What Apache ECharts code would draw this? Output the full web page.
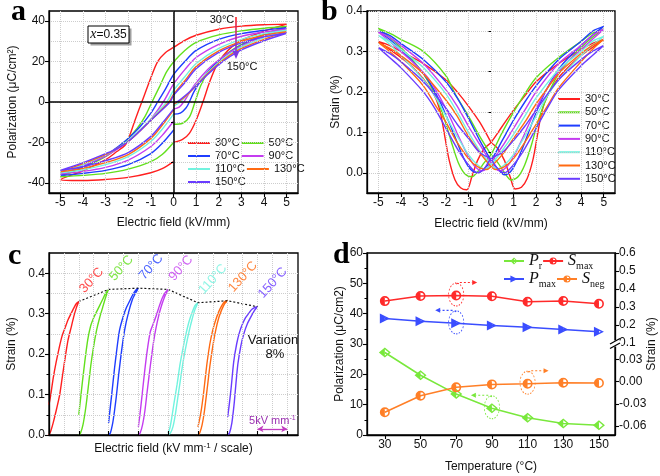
<!DOCTYPE html>
<html>
<head>
<meta charset="utf-8">
<script src="https://cdn.jsdelivr.net/npm/echarts@6.0.0/dist/echarts.min.js"></script>
<style>
html,body{margin:0;padding:0;background:#fff;}
#chart{width:660px;height:476px;}
</style>
</head>
<body>
<div id="chart"></div>
<script>
// ================= DATA =================
const temps = ['30°C','50°C','70°C','90°C','110°C','130°C','150°C'];

// (a) P–E loops: [E (kV/mm), P (µC/cm²)]
const pe30 = [[0,-20],[0.4,-18.5],[0.7,-15.5],[1,-9],[1.3,0],[1.6,10],[1.9,18],[2.2,23],[2.6,27.5],[3,30.5],[4,35],[5,38.5],[4,38.2],[3,37.5],[2,36],[1,33],[0.5,30.5],[0,27],[-0.35,24.5],[-0.7,20],[-1,12],[-1.2,6],[-1.4,0],[-1.7,-9],[-2,-18.5],[-2.15,-21.5],[-2.5,-24.5],[-3,-28.5],[-4,-34],[-5,-38.5],[-4.5,-38.8],[-4,-38.8],[-3,-38.3],[-2,-37.3],[-1,-35],[-0.5,-33],[0,-29.5]];
const pe50 = [[0,-11],[0.4,-10.5],[0.7,-7.5],[0.95,0],[1.2,8],[1.5,14.5],[1.8,18.5],[2.2,22.5],[2.6,25.8],[3,28.5],[4,33.5],[5,37.3],[4,36.5],[3,35.2],[2,33.2],[1,29.5],[0.5,25.5],[0,19.8],[-0.3,15],[-0.6,8],[-0.95,0],[-1.25,-7],[-1.6,-13],[-2,-18],[-2.5,-23],[-3,-27],[-4,-32.5],[-5,-37],[-4,-36.3],[-3,-35.3],[-2,-33.2],[-1,-29.5],[-0.5,-26],[0,-20]];
const pe70 = [[0,-6],[0.3,-5.5],[0.55,-3],[0.7,0],[0.9,5],[1.2,10.5],[1.6,16],[2,20.5],[2.5,24.8],[3,28],[4,33],[5,36.8],[4,35.5],[3,33.8],[2,31],[1,25.5],[0.5,20],[0,13.5],[-0.35,6.5],[-0.7,0],[-1,-5.5],[-1.5,-12.5],[-2,-18],[-2.5,-22.5],[-3,-26.5],[-4,-32],[-5,-36.3],[-4,-35.3],[-3,-33.8],[-2,-31],[-1,-25.5],[-0.5,-20.5],[0,-14]];
const pe90 = [[0,-3.5],[0.25,-2.5],[0.45,0],[0.7,4.5],[1,9.5],[1.5,16],[2,20.8],[2.5,24.7],[3,27.8],[4,32.5],[5,36.1],[4,34.6],[3,32.5],[2,28.5],[1,22],[0.5,16],[0,8.8],[-0.45,0],[-1,-8.5],[-1.5,-14.5],[-2,-19.5],[-2.5,-23.5],[-3,-26.8],[-4,-31.5],[-5,-35.6],[-4,-34.3],[-3,-32.3],[-2,-28.7],[-1,-22],[-0.5,-16.5],[0,-9.5]];
const pe110 = [[0,-2],[0.3,0],[0.6,3.5],[1,8.5],[1.5,14.5],[2,19.5],[2.5,23.8],[3,27.2],[4,31.8],[5,35.5],[4,33.8],[3,31],[2,26.5],[1,19],[0.5,12.5],[0,5.7],[-0.3,0],[-1,-8.5],[-1.5,-14],[-2,-19],[-2.5,-23],[-3,-26.2],[-4,-31],[-5,-35],[-4,-33.5],[-3,-31],[-2,-27],[-1,-19.5],[-0.5,-13.5],[0,-6]];
const pe130 = [[0,-1],[0.2,0],[0.6,3.5],[1,8],[1.5,14],[2,19],[2.5,23.2],[3,26.5],[4,31],[5,34.8],[4,33],[3,30],[2,25.3],[1,17.5],[0.5,10.5],[0,3.8],[-0.2,0],[-1,-9],[-1.5,-14.5],[-2,-19.5],[-2.5,-23],[-3,-26],[-4,-30.5],[-5,-34.5],[-4,-32.8],[-3,-30],[-2,-26],[-1,-18],[-0.5,-11.5],[0,-4]];
const pe150 = [[0,-0.5],[0.15,0],[0.6,4],[1,8],[1.5,13.5],[2,18.5],[2.5,22.5],[3,25.8],[4,30.3],[5,34],[4,32.2],[3,29.2],[2,24.5],[1,16.5],[0.5,9.5],[0,3.2],[-0.15,0],[-1,-9],[-1.5,-14.5],[-2,-19.5],[-2.5,-23],[-3,-25.5],[-4,-30],[-5,-33.8],[-4,-32],[-3,-29],[-2,-25],[-1,-17],[-0.5,-10.5],[0,-3.5]];

// (b) bipolar strain loops: [E (kV/mm), S (%)]
const st30 = [[0,0.075],[0.3,0.06],[0.6,0.03],[0.85,-0.01],[1.07,-0.04],[1.35,-0.036],[1.6,-0.015],[1.85,0.03],[2.05,0.09],[2.25,0.15],[2.5,0.19],[3,0.235],[3.5,0.265],[4,0.29],[4.5,0.31],[5,0.33],[4.5,0.32],[4,0.305],[3,0.27],[2,0.225],[1.5,0.19],[1,0.155],[0.5,0.115],[0,0.075],[-0.3,0.06],[-0.6,0.03],[-0.85,-0.01],[-1.07,-0.042],[-1.35,-0.037],[-1.6,-0.017],[-1.85,0.03],[-2.05,0.09],[-2.25,0.15],[-2.5,0.19],[-3,0.232],[-3.5,0.262],[-4,0.285],[-4.5,0.305],[-5,0.325],[-4.5,0.315],[-4,0.3],[-3,0.27],[-2,0.23],[-1.5,0.2],[-1,0.165],[-0.5,0.125],[0,0.075]];
const st50 = [[0,0.045],[0.3,0.025],[0.6,0.0],[0.9,-0.018],[1.2,-0.01],[1.5,0.02],[1.8,0.07],[2.1,0.13],[2.5,0.19],[3,0.245],[3.5,0.28],[4,0.31],[4.5,0.335],[5,0.355],[4.5,0.345],[4,0.325],[3,0.285],[2,0.235],[1.5,0.195],[1,0.15],[0.5,0.1],[0,0.045],[-0.3,0.025],[-0.6,0.002],[-0.85,-0.01],[-1.15,-0.003],[-1.45,0.025],[-1.75,0.075],[-2.05,0.13],[-2.45,0.19],[-3,0.245],[-3.5,0.28],[-4,0.31],[-4.5,0.335],[-5,0.357],[-4.5,0.345],[-4,0.33],[-3,0.3],[-2,0.24],[-1.6,0.196],[-1,0.14],[-0.5,0.09],[0,0.045]];
const st70 = [[0,0.03],[0.3,0.01],[0.6,-0.005],[0.9,0.005],[1.2,0.035],[1.5,0.075],[1.8,0.12],[2.2,0.175],[2.7,0.23],[3.2,0.27],[4,0.315],[4.5,0.34],[5,0.362],[4.5,0.35],[4,0.325],[3,0.28],[2,0.215],[1.5,0.175],[1,0.13],[0.5,0.08],[0,0.03],[-0.3,0.01],[-0.6,0.0],[-0.9,0.008],[-1.2,0.035],[-1.5,0.075],[-1.9,0.13],[-2.3,0.18],[-2.8,0.23],[-3.3,0.265],[-4,0.305],[-4.5,0.33],[-5,0.35],[-4.5,0.34],[-4,0.32],[-3,0.28],[-2,0.225],[-1.5,0.185],[-1,0.135],[-0.5,0.08],[0,0.03]];
const st90 = [[0,0.025],[0.2,0.01],[0.4,0.005],[0.7,0.015],[1,0.04],[1.4,0.085],[1.8,0.135],[2.3,0.19],[2.8,0.235],[3.4,0.275],[4,0.305],[4.5,0.33],[5,0.355],[4.5,0.34],[4,0.315],[3,0.27],[2,0.2],[1.5,0.155],[1,0.11],[0.5,0.065],[0,0.025],[-0.2,0.01],[-0.4,0.005],[-0.7,0.015],[-1,0.04],[-1.4,0.085],[-1.8,0.135],[-2.3,0.19],[-2.8,0.235],[-3.4,0.27],[-4,0.3],[-4.5,0.325],[-5,0.348],[-4.5,0.335],[-4,0.315],[-3,0.27],[-2,0.205],[-1.5,0.165],[-1,0.115],[-0.5,0.07],[0,0.025]];
const st110 = [[0,0.02],[0.25,0.01],[0.6,0.02],[1,0.045],[1.5,0.09],[2,0.14],[2.5,0.19],[3,0.23],[4,0.29],[4.5,0.315],[5,0.337],[4.5,0.325],[4,0.3],[3,0.255],[2,0.185],[1.5,0.14],[1,0.095],[0.5,0.055],[0,0.02],[-0.25,0.01],[-0.6,0.02],[-1,0.045],[-1.5,0.09],[-2,0.14],[-2.5,0.19],[-3,0.23],[-4,0.29],[-4.5,0.318],[-5,0.34],[-4.5,0.325],[-4,0.305],[-3,0.26],[-2,0.195],[-1.5,0.15],[-1,0.1],[-0.5,0.055],[0,0.02]];
const st130 = [[0,0.015],[0.2,0.008],[0.6,0.015],[1,0.035],[1.5,0.075],[2,0.12],[2.5,0.165],[3,0.21],[4,0.275],[4.5,0.305],[5,0.33],[4.5,0.315],[4,0.295],[3,0.245],[2,0.17],[1.5,0.125],[1,0.085],[0.5,0.045],[0,0.015],[-0.2,0.008],[-0.6,0.015],[-1,0.035],[-1.5,0.075],[-2,0.125],[-2.5,0.17],[-3,0.215],[-4,0.275],[-4.5,0.3],[-5,0.322],[-4.5,0.308],[-4,0.29],[-3,0.245],[-2,0.18],[-1.5,0.14],[-1,0.09],[-0.5,0.05],[0,0.015]];
const st150 = [[0,0.035],[0.3,0.01],[0.6,0.0],[1,0.02],[1.5,0.06],[2,0.11],[2.5,0.16],[3,0.205],[4,0.265],[4.5,0.29],[5,0.315],[4.5,0.3],[4,0.28],[3,0.23],[2,0.155],[1.5,0.115],[1,0.08],[0.5,0.05],[0,0.035],[-0.3,0.01],[-0.6,0.0],[-1,0.02],[-1.5,0.06],[-2,0.11],[-2.5,0.16],[-3,0.2],[-4,0.26],[-4.5,0.285],[-5,0.31],[-4.5,0.295],[-4,0.275],[-3,0.225],[-2,0.16],[-1.5,0.12],[-1,0.085],[-0.5,0.05],[0,0.035]];

// (c) unipolar strain: [E (kV/mm), S (%)]; each temperature shifted by one 5 kV/mm step
const uniStep = 5;
const uni30 = [[0,0],[0.3,0.01],[0.7,0.03],[1.2,0.06],[1.8,0.1],[2.2,0.14],[2.7,0.19],[3.2,0.235],[3.7,0.265],[4.2,0.295],[4.6,0.315],[5,0.33],[4.6,0.325],[4.2,0.315],[3.7,0.3],[3.2,0.285],[2.7,0.265],[2.2,0.245],[1.7,0.215],[1.2,0.18],[0.7,0.14],[0.3,0.1],[0,0.075]];
const uni50 = [[0,0],[0.3,0.005],[0.7,0.025],[1.1,0.06],[1.4,0.094],[2,0.17],[2.5,0.22],[3,0.26],[3.5,0.29],[4,0.315],[4.5,0.34],[5,0.36],[4.5,0.35],[4,0.335],[3.5,0.32],[3,0.305],[2.5,0.29],[2,0.27],[1.5,0.235],[1,0.18],[0.6,0.13],[0.3,0.09],[0,0.05]];
const uni70 = [[0,0],[0.3,0.005],[0.7,0.03],[1,0.06],[1.3,0.095],[1.7,0.15],[2.2,0.21],[2.7,0.26],[3.3,0.3],[4,0.335],[4.5,0.35],[5,0.363],[4.5,0.357],[4,0.345],[3.5,0.33],[3,0.315],[2.5,0.295],[1.85,0.26],[1.5,0.225],[1,0.165],[0.6,0.11],[0.3,0.07],[0,0.03]];
const uni90 = [[0,0],[0.3,0.005],[0.7,0.025],[1.1,0.06],[1.5,0.11],[2,0.17],[2.5,0.225],[2.9,0.26],[3.5,0.3],[4,0.325],[4.5,0.345],[5,0.36],[4.5,0.352],[4,0.338],[3.5,0.318],[3,0.295],[2.5,0.275],[2,0.255],[1.5,0.21],[1,0.15],[0.6,0.095],[0.3,0.055],[0,0.02]];
const uni110 = [[0,0],[0.4,0.005],[0.8,0.02],[1.2,0.05],[1.6,0.09],[2,0.13],[2.5,0.18],[3,0.22],[3.5,0.255],[4,0.285],[4.5,0.31],[5,0.327],[4.5,0.32],[4,0.302],[3.5,0.28],[3,0.25],[2.5,0.215],[2,0.175],[1.5,0.125],[1,0.08],[0.6,0.042],[0.3,0.018],[0,0.005]];
const uni130 = [[0,0],[0.3,0.005],[0.7,0.025],[1.1,0.06],[1.6,0.12],[2,0.17],[2.5,0.22],[3,0.26],[3.5,0.29],[4,0.31],[4.5,0.325],[5,0.332],[4.5,0.33],[4,0.32],[3.5,0.305],[3,0.285],[2.5,0.26],[2,0.225],[1.5,0.175],[1,0.11],[0.6,0.065],[0.3,0.04],[0,0.02]];
const uni150 = [[0,0],[0.3,0.005],[0.7,0.03],[1.1,0.08],[1.4,0.13],[1.7,0.175],[2.2,0.22],[2.7,0.25],[3.3,0.275],[4,0.295],[4.5,0.308],[5,0.317],[4.5,0.315],[4,0.31],[3.5,0.3],[3,0.29],[2.5,0.275],[2,0.255],[1.5,0.225],[1,0.18],[0.6,0.12],[0.3,0.08],[0,0.045]];
const scaleBarC = [35, 40];   // 5 kV/mm scale bar on the shifted axis
const scaleBarY = 0.015;

// (d) temperature dependence
const tempD = [30,50,70,90,110,130,150];
const prD   = [27.2,19.7,13.5,8.8,5.7,3.8,3.2];
const pmaxD = [38.4,37.5,36.8,36.1,35.5,34.8,34.0];
const smaxD = [0.333,0.361,0.364,0.360,0.329,0.334,0.318];
const snegD = [-0.0413,-0.0189,-0.0076,-0.0036,-0.0027,-0.0013,-0.0018];

// tick values
const ticksAX = [-5,-4,-3,-2,-1,0,1,2,3,4,5];
const ticksAY = [-40,-20,0,20,40];
const minorAY = [-30,-10,10,30];
const ticksBY = [0,0.1,0.2,0.3,0.4];
const minorBY = [0.05,0.15,0.25,0.35];
const ticksCX = [0,5,10,15,20,25,30,35,40];
const minorCX = [2.5,7.5,12.5,17.5,22.5,27.5,32.5,37.5];
const ticksCY = [0,0.1,0.2,0.3,0.4];
const minorCY = [0.05,0.15,0.25,0.35];
const ticksDX = [30,50,70,90,110,130,150];
const ticksDRup = [0.1,0.2,0.3,0.4,0.5,0.6];
const ticksDRlow = [-0.06,-0.03,0,0.03];

// ================= STYLE =================
const FONT = '"Liberation Sans", Arial, sans-serif';
const SERIF = '"Liberation Serif", "Times New Roman", serif';
const C = ['#ff1f1f','#62e01c','#1f3dff','#c43cf0','#72f3df','#ff6a12','#6a3cff'];
const CD = {green:'#79e83c', red:'#ff2a2a', blue:'#3a4dff', orange:'#ff7f27'};
const GRIDLINE = {color:'#cdcdcd', type:'dotted', width:1};

function mainAxis(gridIndex, position, min, max, ticks, fmt, o) {
  o = o || {};
  return {
    type:'value', gridIndex, position, min, max, offset:0,
    axisLine:{show: o.noLine ? false : true, onZero:false, lineStyle:{color:'#000', width:1.3}},
    axisTick:{show:true, customValues:ticks, inside:!!o.inside, length:4, lineStyle:{color:'#000', width:1.1}},
    axisLabel:{show:!o.noLabel, customValues:ticks, formatter:fmt, color:'#111', fontSize:12, margin:4, fontFamily:FONT},
    splitLine:{show:!!o.grid, lineStyle:GRIDLINE},
    name:o.name || '', nameLocation:'middle', nameGap:o.nameGap || 25,
    nameTextStyle:Object.assign({fontSize:12, color:'#111', fontFamily:FONT}, o.nameStyle || {}),
    z:5
  };
}
function minorAxis(gridIndex, position, min, max, ticks, o) {
  return {
    type:'value', gridIndex, position, min, max, offset:0,
    axisLine:{show:false},
    axisTick:{show:(o.tickLen||0) > 0, customValues:ticks, inside:!!o.inside, length:o.tickLen||0, lineStyle:{color:'#000', width:1}},
    axisLabel:{show:false},
    splitLine:{show:!!o.grid, lineStyle:GRIDLINE},
    z:5
  };
}

const grids = [
  {left:49, top:11, width:249, height:182},
  {left:367, top:11, width:248, height:182},
  {left:49, top:253, width:249, height:182},
  {left:367, top:253, width:248, height:182}
].map(g => Object.assign(g, {show:true, borderColor:'#000', borderWidth:1.3, backgroundColor:'transparent'}));

const xAxis = [
  mainAxis(0,'bottom',-5.5,5.5,ticksAX,v=>String(v),{grid:true,name:'Electric field (kV/mm)',nameGap:24}),
  mainAxis(1,'bottom',-5.5,5.5,ticksAX,v=>String(v),{grid:true,name:'Electric field (kV/mm)',nameGap:25}),
  mainAxis(2,'bottom',0,41.8,ticksCX,null,{grid:true,inside:true,noLabel:true,
    name:'Electric field (kV mm{sup|-1} / scale)',nameGap:7,
    nameStyle:{lineHeight:14, rich:{sup:{fontSize:8,lineHeight:8,verticalAlign:'top',fontFamily:FONT,color:'#111'}}}}),
  minorAxis(2,'bottom',0,41.8,minorCX,{grid:true}),
  mainAxis(3,'bottom',20,159,ticksDX,v=>String(v),{name:'Temperature (°C)',nameGap:26})
];
const yLeftD = {
  type:'value', gridIndex:3, position:'left', min:0, max:60, interval:10, offset:0,
  axisLine:{show:true, onZero:false, lineStyle:{color:'#000', width:1.3}},
  axisTick:{show:true, length:4, lineStyle:{color:'#000', width:1.1}},
  minorTick:{show:true, splitNumber:2, length:2.5, lineStyle:{color:'#000', width:1}},
  axisLabel:{color:'#111', fontSize:12, margin:4, fontFamily:FONT},
  splitLine:{show:false},
  name:'Polarization (μC/cm2)', nameLocation:'middle', nameGap:21,
  nameTextStyle:{fontSize:12, color:'#111', fontFamily:FONT}, z:5
};
const yAxis = [
  mainAxis(0,'left',-45,45,ticksAY,v=>String(v),{grid:true,name:'Polarization (μC/cm²)',nameGap:30}),
  minorAxis(0,'left',-45,45,minorAY,{grid:true,tickLen:2.5}),
  mainAxis(1,'left',-0.05,0.4,ticksBY,v=>v.toFixed(1),{grid:true,name:'Strain (%)',nameGap:25}),
  minorAxis(1,'left',-0.05,0.4,minorBY,{grid:true,tickLen:2.5}),
  mainAxis(2,'left',0,0.45,ticksCY,v=>v.toFixed(1),{grid:true,name:'Strain (%)',nameGap:31}),
  minorAxis(2,'left',0,0.45,minorCY,{grid:true,tickLen:2.5}),
  yLeftD,
  mainAxis(3,'right',-0.41,0.6,ticksDRup,v=>v.toFixed(1),{name:'Strain (%)',nameGap:31}),
  mainAxis(3,'right',-0.072,0.174,ticksDRlow,v=>v.toFixed(2),{noLine:true})
];

// ================= SERIES =================
const series = [];
const peLoops = [pe30,pe50,pe70,pe90,pe110,pe130,pe150];
const stLoops = [st30,st50,st70,st90,st110,st130,st150];
const uniLoops = [uni30,uni50,uni70,uni90,uni110,uni130,uni150];

peLoops.forEach((d,i) => {
  const s = {type:'line', name:temps[i], xAxisIndex:0, yAxisIndex:0, data:d, smooth:0.3,
    symbol:'none', lineStyle:{color:C[i], width:1.4}, itemStyle:{color:C[i]}, z:3};
  if (i === 0) {
    s.markLine = {silent:true, symbol:['none','none'], label:{show:false},
      lineStyle:{color:'#000', width:1.5, type:'solid'}, data:[{xAxis:0},{yAxis:0}]};
  }
  series.push(s);
});
stLoops.forEach((d,i) => {
  series.push({type:'line', name:temps[i], xAxisIndex:1, yAxisIndex:2, data:d, smooth:0.3,
    symbol:'none', lineStyle:{color:C[i], width:1.4}, itemStyle:{color:C[i]}, z:3});
});
uniLoops.forEach((d,i) => {
  series.push({type:'line', name:temps[i], xAxisIndex:2, yAxisIndex:4,
    data:d.map(p => [i*uniStep + p[0], p[1]]), smooth:0.2,
    symbol:'none', lineStyle:{color:C[i], width:1.4}, itemStyle:{color:C[i]}, z:3});
});
const peaks = uniLoops.map((d,i) => {
  const top = d.reduce((a,b) => b[1] > a[1] ? b : a);
  return [i*uniStep + top[0], top[1]];
});
series.push({type:'line', name:'peakLine', xAxisIndex:2, yAxisIndex:4, data:peaks, symbol:'none',
  lineStyle:{color:'#111', width:1.2, type:[2,2]}, z:4,
  markLine:{silent:true, symbol:['arrow','arrow'], symbolSize:[5,6],
    lineStyle:{color:'#c13cc0', width:1.3, type:'solid'},
    label:{show:true, position:'insideMiddleTop', distance:1, formatter:'5kV mm{sup|-1}', color:'#9a2fb0',
      fontSize:11, fontFamily:FONT, lineHeight:13,
      rich:{sup:{fontSize:7, lineHeight:7, verticalAlign:'top', color:'#9a2fb0', fontFamily:FONT}}},
    data:[[{coord:[scaleBarC[0], scaleBarY]},{coord:[scaleBarC[1], scaleBarY]}]]}
});
series.push({type:'scatter', name:'peakLabels', xAxisIndex:2, yAxisIndex:4, symbolSize:0, silent:true, z:6,
  data:peaks.map((p,i) => ({value:p, name:temps[i], label:{color:C[i]}})),
  label:{show:true, formatter:'{b}', position:[8,-6], rotate:48, align:'left', verticalAlign:'bottom',
    fontSize:13, fontFamily:FONT}
});

// panel d symbols (outline + half fill)
const SYM_CIRC = 'path://M0,5A5,5,0,1,1,10,5A5,5,0,1,1,0,5ZM1.6,5A3.4,3.4,0,1,0,8.4,5A3.4,3.4,0,1,0,1.6,5ZM5,10A5,5,0,0,1,5,0Z';
const SYM_TRI = 'path://M0,0L10,5L0,10ZM1.6,2.6L1.6,7.4L7,5ZM0,0L5,2.5L5,7.5L0,10Z';
const SYM_DIA = 'path://M0,5L5,0L10,5L5,10ZM1.8,5L5,8.2L8.2,5L5,1.8ZM5,0L5,10L0,5Z';
function dSeries(name, vals, yIdx, color, sym, size) {
  return {type:'line', name, xAxisIndex:4, yAxisIndex:yIdx, data:tempD.map((t,i) => [t, vals[i]]),
    symbol:sym, symbolSize:size, showSymbol:true, lineStyle:{color, width:1.5},
    itemStyle:{color, borderWidth:0}, z:4};
}
const iPr = series.length;   series.push(dSeries('Pr', prD, 6, CD.green, SYM_DIA, [12,10]));
const iPmax = series.length; series.push(dSeries('Pmax', pmaxD, 6, CD.blue, SYM_TRI, [10,10]));
const iSmax = series.length; series.push(dSeries('Smax', smaxD, 7, CD.red, SYM_CIRC, [10,10]));
const iSneg = series.length; series.push(dSeries('Sneg', snegD, 8, CD.orange, SYM_CIRC, [10,10]));

const legendText = {fontSize:11, fontFamily:FONT, color:'#111'};
const option = {
  animation:false,
  backgroundColor:'#fff',
  textStyle:{fontFamily:FONT},
  grid:grids, xAxis, yAxis, series,
  legend:[
    {data:temps, left:188, top:137.5, width:120, orient:'horizontal', icon:'rect', itemWidth:22, itemHeight:2,
     itemGap:2, padding:0, textStyle:Object.assign({lineHeight:11}, legendText), selectedMode:false},
    {data:temps, left:558, top:93.5, orient:'vertical', icon:'rect', itemWidth:22, itemHeight:2,
     itemGap:2.3, padding:0, textStyle:Object.assign({lineHeight:11}, legendText), selectedMode:false},
    {data:['Pr','Smax','Pmax','Sneg'], left:503, top:253, width:105, orient:'horizontal',
     itemWidth:20, itemHeight:9, itemGap:0, padding:0, selectedMode:false,
     formatter:n => ({Pr:'{i|P}{s|r}', Smax:'{i|S}{s|max}', Pmax:'{i|P}{s|max}', Sneg:'{i|S}{s|neg}'})[n],
     textStyle:{width:25, rich:{
       i:{fontFamily:SERIF, fontStyle:'italic', fontSize:16, lineHeight:20, verticalAlign:'middle', color:'#111'},
       s:{fontFamily:SERIF, fontSize:10, lineHeight:10, verticalAlign:'bottom', color:'#111'}}}}
  ]
};

const chart = echarts.init(document.getElementById('chart'), null, {renderer:'canvas'});
chart.setOption(option);

// ================= ANNOTATIONS =================
const G = [];
function letter(t, x, y) {
  G.push({type:'text', x, y, z:100, style:{text:t, fontSize:30, fontFamily:SERIF, fontWeight:'bold',
    fill:'#000', align:'left', verticalAlign:'middle'}});
}
letter('a', 11, 12); letter('b', 321, 12); letter('c', 8, 256); letter('d', 333, 255);

// x=0.35 box
G.push({type:'rect', z:100, shape:{x:90.5, y:28.5, width:41, height:17}, style:{fill:'#a0a0a0'}});
G.push({type:'rect', z:101, shape:{x:88, y:26, width:41, height:17}, style:{fill:'#fff', stroke:'#000', lineWidth:1}});
G.push({type:'text', z:102, x:108.5, y:34.5, style:{text:'{i|x}=0.35', fontSize:12, fontFamily:FONT, fill:'#111',
  align:'center', verticalAlign:'middle', rich:{i:{fontFamily:SERIF, fontStyle:'italic', fontSize:14, fill:'#111'}}}});

// 30°C -> 150°C arrow
G.push({type:'text', z:100, x:222, y:20, style:{text:'30°C', fontSize:11, fontFamily:FONT, fill:'#111', align:'center', verticalAlign:'middle'}});
G.push({type:'line', z:100, shape:{x1:236, y1:17, x2:236, y2:53},
  style:{lineWidth:1.6, stroke:new echarts.graphic.LinearGradient(236,17,236,53,[{offset:0,color:'#ff2020'},{offset:1,color:'#7a3adf'}], true)}});
G.push({type:'polygon', z:100, shape:{points:[[232.5,51],[239.5,51],[236,59]]}, style:{fill:'#7a3adf'}});
G.push({type:'text', z:100, x:242, y:67, style:{text:'150°C', fontSize:11, fontFamily:FONT, fill:'#111', align:'center', verticalAlign:'middle'}});

// Variation 8%
G.push({type:'text', z:100, x:273, y:340, style:{text:'Variation', fontSize:13, fontFamily:FONT, fill:'#111', align:'center', verticalAlign:'middle'}});
G.push({type:'text', z:100, x:275, y:354, style:{text:'8%', fontSize:13, fontFamily:FONT, fill:'#111', align:'center', verticalAlign:'middle'}});

// axis break on right strain axis of (d)
G.push({type:'rect', z:100, shape:{x:610, y:340.5, width:11, height:6}, style:{fill:'#fff'}});
G.push({type:'line', z:101, shape:{x1:610, y1:344, x2:620, y2:338.5}, style:{stroke:'#000', lineWidth:1.2}});
G.push({type:'line', z:101, shape:{x1:610, y1:348.5, x2:620, y2:343}, style:{stroke:'#000', lineWidth:1.2}});

// dashed ellipses with arrows in (d), anchored to data points
const marks = [
  {s:iSmax, pt:[tempD[2], smaxD[2]], color:CD.red, dir:1},
  {s:iPmax, pt:[tempD[2], pmaxD[2]], color:CD.blue, dir:-1},
  {s:iSneg, pt:[tempD[4], snegD[4]], color:CD.orange, dir:1},
  {s:iPr, pt:[tempD[3], prD[3]], color:CD.green, dir:-1}
];
marks.forEach(m => {
  const p = chart.convertToPixel({seriesIndex:m.s}, m.pt);
  if (!p) return;
  const cx = p[0], cy = p[1] - 1, ry = 11.5;
  G.push({type:'circle', z:100, x:cx, y:cy, scaleX:0.66, shape:{cx:0, cy:0, r:ry},
    style:{fill:'transparent', stroke:m.color, lineWidth:1.1, lineDash:[2,2]}});
  const yTop = cy - ry;
  const xEnd = cx + m.dir*16;
  G.push({type:'polyline', z:100, shape:{points:[[cx, yTop+1],[cx+m.dir*3, yTop-0.5],[xEnd, yTop-0.5]]},
    style:{fill:'none', stroke:m.color, lineWidth:1.1, lineDash:[2,2]}});
  G.push({type:'polygon', z:100, shape:{points:[[xEnd, yTop-3],[xEnd+m.dir*5, yTop-0.5],[xEnd, yTop+2]]},
    style:{fill:m.color}});
});

chart.setOption({graphic:G});
</script>
</body>
</html>
